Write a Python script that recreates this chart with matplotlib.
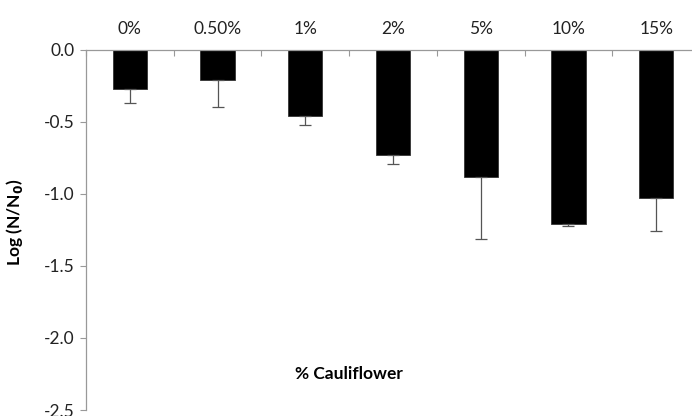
import matplotlib
matplotlib.use("Agg")
import numpy as np
import matplotlib.pyplot as plt

# 花椰菜添加量与 Log(N/N0) 的关系
labels = ["0%", "0.50%", "1%", "2%", "5%", "10%", "15%"]
log_ratio = [-0.27, -0.21, -0.46, -0.73, -0.88, -1.21, -1.03]
err_low = [0.10, 0.19, 0.06, 0.06, 0.43, 0.01, 0.23]

plt.rcParams['font.family'] = ['Lato', 'DejaVu Sans']

fig = plt.figure(figsize=(6.92, 4.16), dpi=100)
ax = fig.add_axes([0.1243, 0.0144, 0.8873, 0.8661])

x = np.arange(len(labels))
# 只画下方误差线
ax.bar(x, log_ratio, width=0.39, color="black", edgecolor="#333333", linewidth=0.6,
       yerr=[err_low, [0]*len(err_low)], ecolor="#555555",
       error_kw=dict(elinewidth=0.9, capsize=4, capthick=0.9), zorder=2)

ax.set_xlim(-0.5, len(labels) - 0.5)
ax.set_ylim(-2.5, 0)
ax.set_yticks(np.arange(-2.5, 0.01, 0.5))
ax.set_yticklabels([f"{v:.1f}" for v in np.arange(-2.5, 0.01, 0.5)])

# 类别标签放在上方
ax.xaxis.tick_top()
ax.set_xticks(x)
ax.set_xticklabels(labels)
ax.set_xticks(np.arange(-0.5, len(labels), 1), minor=True)
ax.tick_params(axis='x', which='major', length=0, pad=9, labelsize=12.5, colors="#222222")
ax.tick_params(axis='x', which='minor', length=4, direction='in', color="#999999", width=0.8)
ax.tick_params(axis='y', length=4, color="#999999", width=0.8, labelsize=12.5,
               labelcolor="#222222", pad=4)

for s in ['right', 'bottom']:
    ax.spines[s].set_visible(False)
for s in ['left', 'top']:
    ax.spines[s].set_color("#999999")
    ax.spines[s].set_linewidth(0.9)

ax.set_ylabel("Log (N/N$_\\mathbf{0}$)", fontweight='bold', fontsize=12.5, labelpad=9)
ax.yaxis.set_label_coords(-0.1, 0.52)
ax.text(0.428, 0.1, "% Cauliflower", transform=ax.transAxes, ha='center', va='center',
        fontweight='bold', fontsize=12.5)

plt.savefig("out.png", dpi=100)
plt.close()
